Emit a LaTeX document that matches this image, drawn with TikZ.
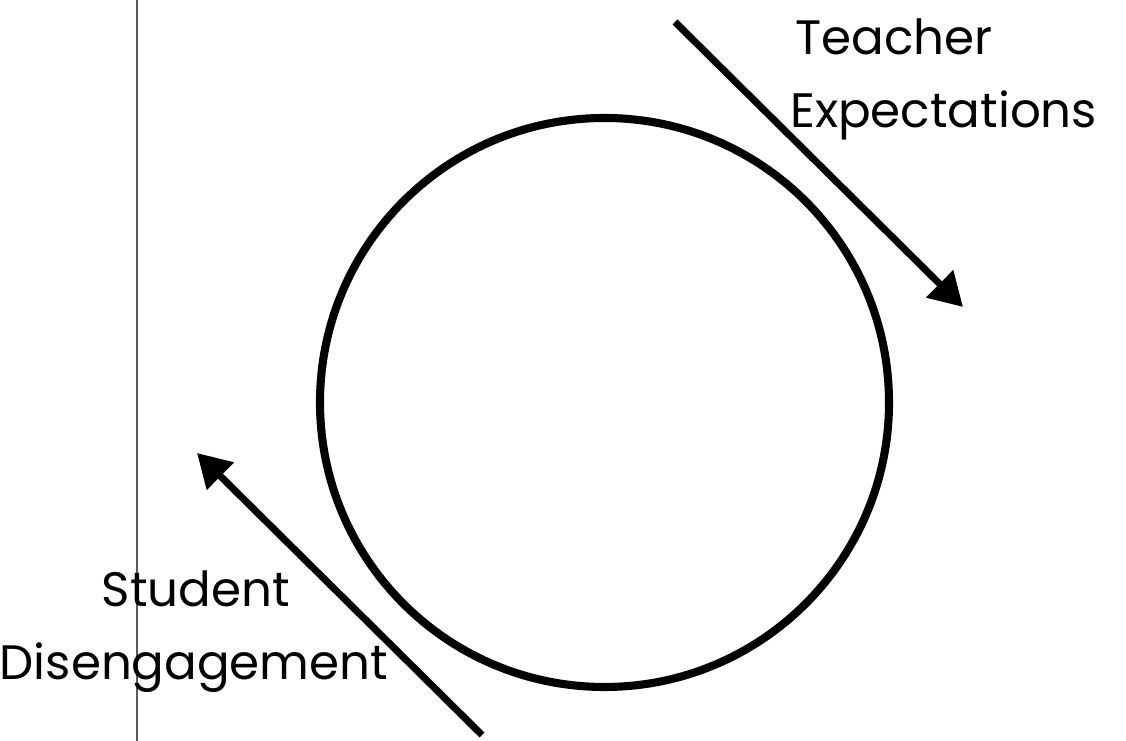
\documentclass[tikz,border=0pt]{standalone}
\usepackage{fontspec}
\setmainfont{Poppins}
\usetikzlibrary{arrows.meta}

\tikzset{
  lbl/.style={font=\fontsize{27.5}{33}\selectfont, inner sep=0pt},
  thick arrow/.style={line width=4pt, -{Triangle[length=0.66cm,width=0.74cm]}},
}

\begin{document}
\begin{tikzpicture}
\useasboundingbox (0,0) rectangle (22.52,14.82);

% page edge
\draw[black!65, line width=0.7pt] (2.74,0) -- (2.74,14.82);

% the loop
\node[circle, draw, line width=4.6pt, minimum size=11.38cm, inner sep=0pt] (loop) at (12.09,6.77) {};

% arrows and their ends
\coordinate (tTail) at (13.50,14.38);
\coordinate (tHead) at (19.26,8.68);
\coordinate (sTail) at (9.64,0.12);
\coordinate (sHead) at (3.94,5.76);
\draw[thick arrow] (tTail) -- (tHead);
\draw[thick arrow] (sTail) -- (sHead);

% labels
\node[lbl, anchor=base west] (teach) at (15.90,13.72) {Teacher};
\node[lbl, anchor=base west] (expec) at (15.80,12.26) {Expectations};
\node[lbl, anchor=base] (stud) at (3.92,2.68) {Student};
\node[lbl, anchor=base] (dise) at (3.88,1.22) {Disengagement};
\end{tikzpicture}
\end{document}
